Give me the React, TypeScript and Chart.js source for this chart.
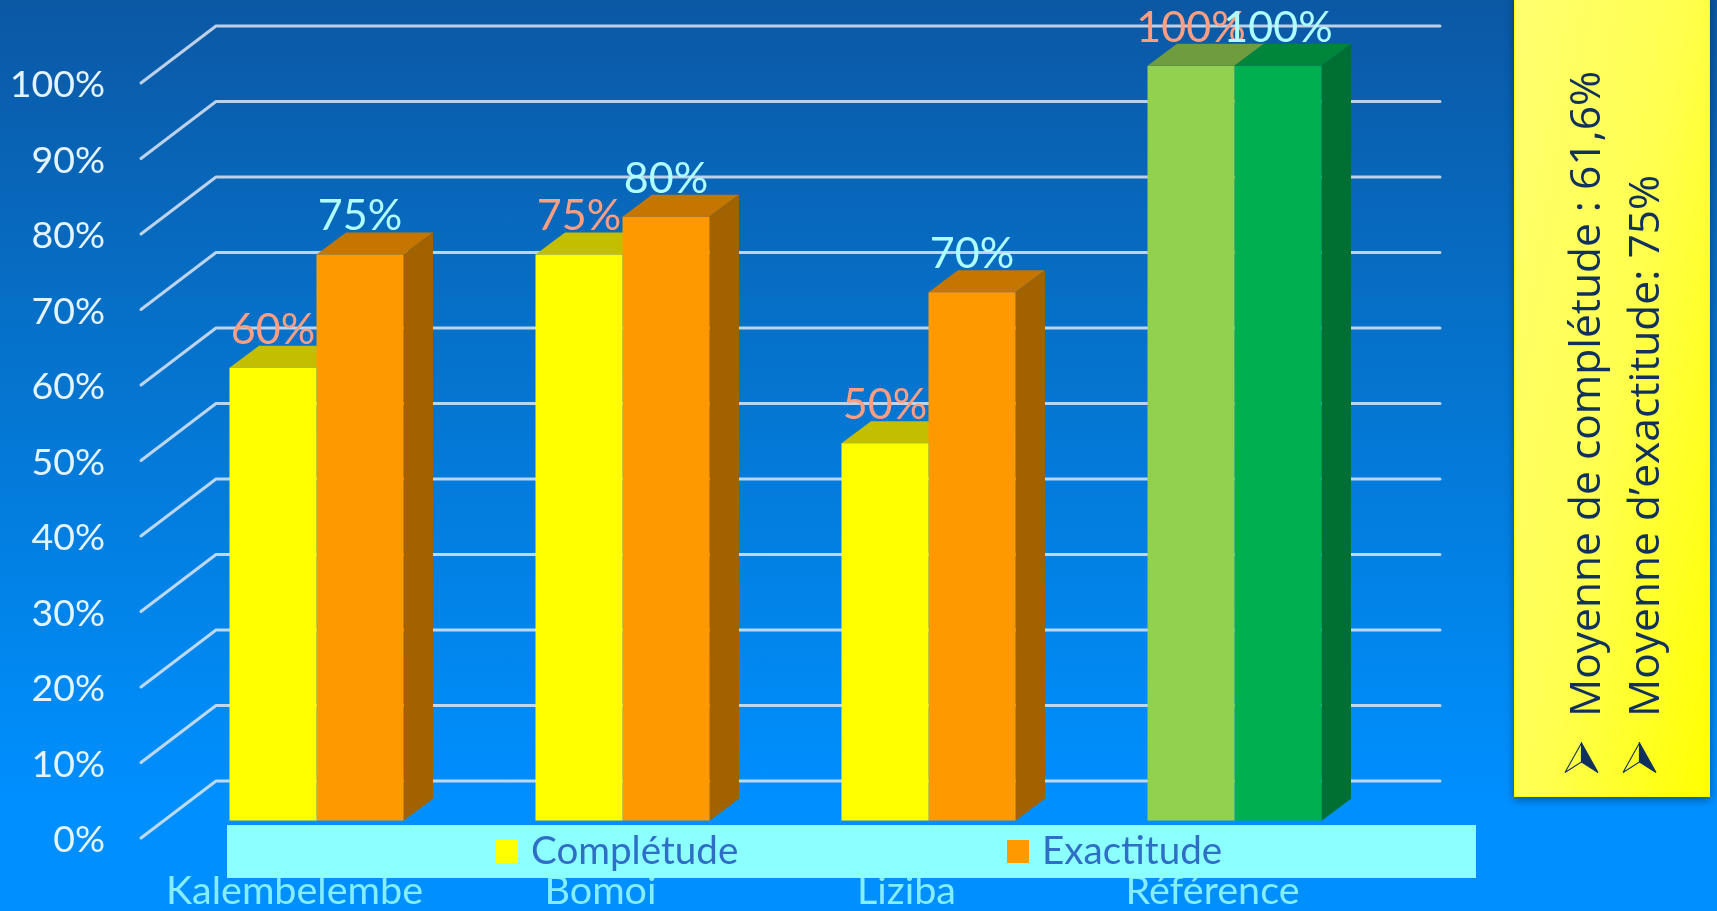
import React, { useEffect, useRef } from "react";
import { Chart, registerables } from "chart.js";

Chart.register(...registerables);

const categories = ["Kalembelembe", "Bomoi", "Liziba", "Référence"];
const completude = [60, 75, 50, 100];
const exactitude = [75, 80, 70, 100];
const seriesNames = ["Complétude", "Exactitude"];
const yTicks = [0, 10, 20, 30, 40, 50, 60, 70, 80, 90, 100];
const panelLines = ["Moyenne de complétude : 61,6%", "Moyenne d’exactitude: 75%"];

const frontColors = [
  ["#FFFF00", "#FFFF00", "#FFFF00", "#92D050"],
  ["#FF9900", "#FF9900", "#FF9900", "#00B050"],
];
const topColors = [
  ["#C4BE00", "#C4BE00", "#C4BE00", "#6E9C3E"],
  ["#C47600", "#C47600", "#C47600", "#00863A"],
];
const sideColors = ["#A36200", "#A36200", "#A36200", "#006F32"];
const labelColors = ["#FF9E80", "#B0FFFF"];
const legendColors = ["#FFFF00", "#FF9900"];

const DX = 29.5;
const DY = 22;
const FONT = "Lato, sans-serif";

const scene = {
  id: "scene",
  beforeDatasetsDraw(chart: any) {
    const { ctx, scales } = chart;
    const y = scales.y;
    ctx.save();
    ctx.strokeStyle = "rgba(228,234,245,0.82)";
    ctx.lineWidth = 3;
    ctx.lineCap = "round";
    ctx.lineJoin = "round";
    yTicks.forEach((v) => {
      const py = y.getPixelForValue(v) + 17.3;
      ctx.beginPath();
      ctx.moveTo(141, py);
      ctx.lineTo(216, py - 57);
      ctx.lineTo(1440, py - 57);
      ctx.stroke();
    });
    [0, 1].forEach((d) => {
      chart.getDatasetMeta(d).data.forEach((bar: any, i: number) => {
        const l = bar.x - bar.width / 2;
        const r = bar.x + bar.width / 2;
        ctx.fillStyle = topColors[d][i];
        ctx.beginPath();
        ctx.moveTo(l, bar.y);
        ctx.lineTo(l + DX, bar.y - DY);
        ctx.lineTo(r + DX, bar.y - DY);
        ctx.lineTo(r, bar.y);
        ctx.closePath();
        ctx.fill();
        if (d === 1) {
          ctx.fillStyle = sideColors[i];
          ctx.beginPath();
          ctx.moveTo(r, bar.y);
          ctx.lineTo(r + DX, bar.y - DY);
          ctx.lineTo(r + DX, bar.base - DY);
          ctx.lineTo(r, bar.base);
          ctx.closePath();
          ctx.fill();
        }
      });
    });
    ctx.restore();
  },
  afterDraw(chart: any) {
    const { ctx } = chart;
    ctx.save();
    ctx.textBaseline = "middle";
    ctx.textAlign = "center";
    ctx.font = `43px ${FONT}`;
    [0, 1].forEach((d) => {
      ctx.fillStyle = labelColors[d];
      chart.getDatasetMeta(d).data.forEach((bar: any, i: number) => {
        const v = chart.data.datasets[d].data[i];
        ctx.fillText(`${v}%`, bar.x, bar.y - 38);
      });
    });
    ctx.fillStyle = "#8CFFFF";
    ctx.fillRect(227, 825, 1249, 53);
    ctx.font = `38.6px ${FONT}`;
    ctx.textAlign = "left";
    const swatch = [496, 1007];
    const text = [531, 1042];
    seriesNames.forEach((n, i) => {
      ctx.fillStyle = legendColors[i];
      ctx.fillRect(swatch[i], 840, 22, 23);
      ctx.fillStyle = "#2F6EC6";
      ctx.fillText(n, text[i], 852);
    });
    ctx.restore();
  },
};

function Arrow({ left }: { left: number }) {
  return (
    <svg
      style={{ position: "absolute", left, top: 742, width: 36, height: 32 }}
      viewBox="0 0 36 32"
    >
      <path d="M17.5 1 L1 30.5 L17.5 20 Z" fill="none" stroke="#10305E" strokeWidth="1.1" />
      <path d="M17.5 1 L34 30.5 L17.5 20 Z" fill="#10305E" stroke="#10305E" strokeWidth="1.1" />
    </svg>
  );
}

export default function App() {
  const ref = useRef<HTMLCanvasElement>(null);

  useEffect(() => {
    document.body.style.margin = "0";
    document.body.style.overflow = "hidden";
    const chart = new Chart(ref.current!, {
      type: "bar",
      data: {
        labels: categories,
        datasets: [
          { label: seriesNames[0], data: completude, backgroundColor: frontColors[0] },
          { label: seriesNames[1], data: exactitude, backgroundColor: frontColors[1] },
        ],
      },
      options: {
        responsive: false,
        animation: false,
        categoryPercentage: 174 / 306,
        barPercentage: 1,
        layout: { padding: { left: 0, top: 65.7, right: 329.5, bottom: 0 } },
        plugins: { legend: { display: false }, tooltip: { enabled: false } },
        scales: {
          x: {
            grid: { display: false },
            border: { display: false },
            afterFit(s: any) {
              s.height = 90.3;
              s.paddingLeft = 0;
              s.paddingRight = 0;
            },
            ticks: {
              color: "#84EEFF",
              font: { family: FONT, size: 39.5 },
              padding: 39,
              labelOffset: -22,
              maxRotation: 0,
              autoSkip: false,
            },
          },
          y: {
            min: 0,
            max: 100,
            grid: { display: false, drawTicks: false },
            border: { display: false },
            afterFit(s: any) {
              s.width = 163.5;
              s.paddingTop = 0;
              s.paddingBottom = 0;
            },
            ticks: {
              stepSize: 10,
              color: "#E4F4FF",
              font: { family: FONT, size: 37.5 },
              padding: 58.5,
              labelOffset: 19.5,
              callback: (v: any) => `${v}%`,
            },
          },
        },
      },
      plugins: [scene],
    } as any);
    return () => chart.destroy();
  }, []);

  return (
    <div
      style={{
        position: "relative",
        width: 1717,
        height: 911,
        overflow: "hidden",
        background: "linear-gradient(180deg,#0B58A4 0%,#0670C8 35%,#0089F2 75%,#008FFF 88%,#008FFF 100%)",
      }}
    >
      <canvas ref={ref} width={1717} height={911} style={{ position: "absolute", left: 0, top: 0 }} />
      <div
        style={{
          position: "absolute",
          left: 1514,
          top: -4,
          width: 196,
          height: 801,
          boxSizing: "border-box",
          border: "1.5px solid #FFFF00",
          background: "linear-gradient(100deg,#FFFF70 0%,#FFFF50 50%,#FFFF00 100%)",
          boxShadow: "0 3px 8px rgba(0,0,0,0.4)",
        }}
      />
      {panelLines.map((t, i) => (
        <span
          key={t}
          style={{
            position: "absolute",
            left: [1554, 1613][i],
            top: 717,
            transformOrigin: "0 0",
            transform: "rotate(-90deg)",
            whiteSpace: "nowrap",
            font: "42.5px/60px 'Open Sans', sans-serif",
            color: "#10305E",
          }}
        >
          {t}
        </span>
      ))}
      <Arrow left={1564} />
      <Arrow left={1622} />
    </div>
  );
}
